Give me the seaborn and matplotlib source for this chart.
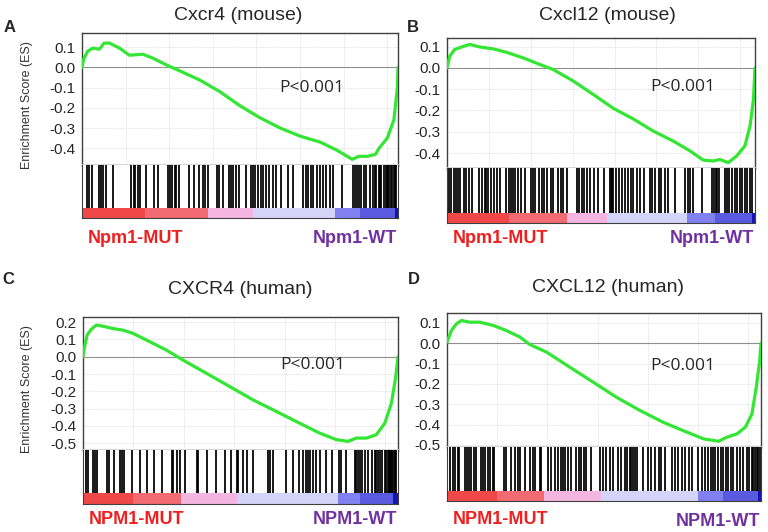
import matplotlib
matplotlib.use('Agg')
import matplotlib.pyplot as plt
from matplotlib.colors import ListedColormap
from matplotlib.ticker import MultipleLocator
import numpy as np
import pandas as pd
import seaborn as sns

# ---- running enrichment score (x = % of ranked list)
es_x_a = [0, 0.5, 1.8, 3.4, 5.5, 7, 8.7, 11.9, 15, 19.3, 22.5, 26.7, 30.9, 37.3, 43.6, 50,
          56.4, 62.7, 69, 75.4, 80.7, 85.5, 87.6, 90.3, 92.9, 94, 96.6, 98.7, 99.8, 100]
es_y_a = [0.0, 0.04, 0.08, 0.095, 0.09, 0.12, 0.12, 0.095, 0.06, 0.065, 0.045, 0.012, -0.017,
          -0.063, -0.12, -0.19, -0.25, -0.30, -0.34, -0.37, -0.41, -0.455, -0.44, -0.44, -0.43,
          -0.40, -0.35, -0.26, -0.10, 0.0]

es_x_b = [0, 0.9, 2.5, 5.2, 7.4, 10.6, 15, 19.3, 24.7, 30.1, 34.5, 41, 47.5, 54, 60.5, 67,
          73.5, 78.9, 83.2, 86.5, 88.6, 91.3, 94, 96.7, 98.4, 99.5, 100]
es_y_b = [0.0, 0.055, 0.086, 0.10, 0.11, 0.098, 0.089, 0.073, 0.047, 0.016, -0.008, -0.062,
          -0.125, -0.19, -0.24, -0.297, -0.344, -0.39, -0.433, -0.437, -0.43, -0.445, -0.414,
          -0.367, -0.273, -0.148, 0.0]

es_x_c = [0, 0.5, 1.3, 2.6, 4.2, 6.3, 9.5, 12.7, 15.9, 21.2, 26.5, 31.7, 39.2, 46.6, 54, 61.4,
          68.8, 75.1, 80.4, 84.1, 86.8, 90, 93.1, 95.8, 97.9, 99.3, 100]
es_y_c = [0.0, 0.058, 0.125, 0.158, 0.183, 0.177, 0.163, 0.154, 0.135, 0.087, 0.038, -0.019,
          -0.096, -0.173, -0.25, -0.317, -0.385, -0.442, -0.48, -0.49, -0.471, -0.471, -0.452,
          -0.385, -0.27, -0.115, 0.0]

es_x_d = [0, 1.4, 3, 4.6, 7.2, 10.4, 14.7, 18.9, 23.2, 26.4, 31.7, 39.1, 46.6, 54, 61.5, 68.9,
          75.3, 81.7, 86.5, 89.1, 92.3, 95, 97.1, 98.5, 99.6, 100]
es_y_d = [0.005, 0.062, 0.095, 0.111, 0.103, 0.103, 0.087, 0.062, 0.03, -0.007, -0.044, -0.118,
          -0.192, -0.266, -0.331, -0.389, -0.43, -0.47, -0.482, -0.462, -0.446, -0.413, -0.348,
          -0.216, -0.085, 0.0]

# ---- gene set hits (% position in ranked list)
hits_a = [1.5, 2.3, 3.2, 5.3, 6.0, 6.8, 7.6, 9.7, 15.5, 16.3, 16.9, 17.6, 18.2, 20.3, 22.9, 24.0,
          27.1, 27.9, 28.5, 29.3, 29.8, 30.8, 34.0, 35.6, 37.0, 38.2, 38.8, 39.8, 42.7, 43.5, 44.6,
          46.5, 47.2, 47.9, 48.8, 49.8, 52.0, 53.5, 54.1, 54.9, 55.6, 56.7, 57.4, 58.3, 59.3, 60.4,
          61.5, 63.0, 65.2, 66.7, 69.9, 70.8, 71.5, 72.5, 73.1, 74.3, 75.4, 76.2, 77.3, 78.6, 79.4,
          82.4, 85.7, 86.3, 87.0, 87.6, 88.4, 89.1, 90.0, 91.0, 92.1, 92.6, 93.1, 94.0, 94.4, 94.7,
          95.5, 96.1, 96.5, 96.8, 97.3, 97.9, 98.2, 98.6, 99.0, 99.5]
hits_b = [0.8, 1.3, 2.2, 2.9, 3.5, 4.3, 5.4, 6.2, 7.0, 8.0, 10.5, 11.3, 12.2, 12.7, 13.3, 14.3,
          15.2, 16.3, 17.1, 19.2, 20.0, 20.7, 21.4, 22.2, 23.0, 24.1, 25.2, 27.2, 27.9, 28.7, 29.8,
          30.7, 31.5, 32.6, 33.7, 34.5, 36.1, 37.0, 37.7, 38.8, 42.1, 42.8, 43.7, 44.6, 45.3, 46.4,
          47.8, 49.1, 51.1, 52.9, 53.2, 53.5, 54.0, 54.8, 55.7, 56.7, 57.8, 58.7, 59.8, 60.5, 61.6,
          62.5, 64.1, 66.0, 66.7, 67.6, 68.7, 69.6, 70.7, 71.7, 74.1, 77.4, 78.3, 79.0, 79.8, 82.8,
          86.1, 86.6, 87.2, 87.7, 88.3, 90.2, 91.0, 91.7, 92.6, 93.5, 94.2, 95.0, 95.9, 96.7, 97.5,
          98.3, 99.1]
hits_c = [1.1, 1.5, 3.2, 3.9, 4.4, 7.6, 8.4, 9.7, 11.6, 12.4, 12.9, 15.5, 18.0, 20.3, 22.4, 25.0,
          28.2, 28.7, 29.8, 30.8, 32.4, 36.1, 36.6, 39.3, 42.2, 45.1, 46.9, 48.8, 49.3, 50.9, 52.0,
          54.1, 58.8, 59.3, 60.4, 64.4, 66.7, 68.6, 69.9, 70.8, 71.5, 72.2, 73.1, 74.1, 75.2, 77.3,
          78.9, 81.3, 82.0, 83.6, 86.3, 86.8, 87.3, 87.9, 88.7, 89.4, 90.5, 91.6, 92.6, 93.1, 93.7,
          94.4, 95.0, 95.8, 96.3, 96.8, 97.1, 97.4, 97.9, 98.2, 98.4, 98.9, 99.2, 99.5]
hits_d = [1.1, 1.8, 2.6, 3.4, 3.9, 5.7, 6.4, 7.1, 7.7, 8.5, 9.3, 10.9, 11.4, 12.1, 13.0, 13.8,
          14.6, 15.1, 18.1, 18.8, 20.4, 21.7, 22.6, 23.4, 24.7, 26.3, 27.3, 28.1, 29.5, 30.0, 32.1,
          33.2, 34.3, 35.3, 36.2, 36.9, 37.7, 38.5, 39.4, 41.2, 41.9, 42.8, 43.6, 44.4, 46.0, 48.6,
          49.7, 50.7, 51.8, 52.9, 54.5, 55.3, 56.6, 57.4, 58.2, 58.7, 59.3, 59.8, 60.6, 62.4, 64.0,
          65.1, 66.4, 67.4, 68.3, 69.4, 71.5, 72.6, 73.6, 74.7, 75.7, 77.0, 77.9, 80.0, 81.1, 82.1,
          83.2, 84.0, 84.8, 85.5, 86.4, 87.2, 88.0, 88.7, 89.6, 90.4, 91.2, 92.2, 93.3, 94.4, 95.4,
          96.2, 97.0, 97.6, 98.1, 98.6, 99.1, 99.7]

# ---- ranked-list metric colour bands (% edges)
rank_colors = ['#f04848', '#f26a72', '#f4b6e0', '#d4d4f8', '#8080f0', '#5a5ae0', '#1414b0']
rank_edges_a = [0, 20, 40, 54, 80, 88, 99, 100]
rank_edges_b = [0, 20, 39, 52, 78, 87, 99, 100]
rank_edges_c = [0, 16, 31, 49, 81, 88, 98.5, 100]
rank_edges_d = [0, 16, 31, 49, 80, 88, 99, 100]

titles = ['Cxcr4 (mouse)', 'Cxcl12 (mouse)', 'CXCR4 (human)', 'CXCL12 (human)']
letters = ['A', 'B', 'C', 'D']
mut_labels = ['Npm1-MUT', 'Npm1-MUT', 'NPM1-MUT', 'NPM1-MUT']
wt_labels = ['Npm1-WT', 'Npm1-WT', 'NPM1-WT', 'NPM1-WT']
yticks_a = [0.1, 0.0, -0.1, -0.2, -0.3, -0.4]
yticks_c = [0.2, 0.1, 0.0, -0.1, -0.2, -0.3, -0.4, -0.5]
yticks_d = [0.1, 0.0, -0.1, -0.2, -0.3, -0.4, -0.5]
pval_text = 'P<0.001'

sns.set_style('white')
plt.rcParams['font.family'] = ['Liberation Sans', 'DejaVu Sans']

W, H = 768, 532
fig = plt.figure(figsize=(W / 100, H / 100), dpi=100)


def px_axes(x0, x1, y0, y1):
    return fig.add_axes([x0 / W, 1 - y1 / H, (x1 - x0) / W, (y1 - y0) / H])


panels = [
    dict(es_x=es_x_a, es_y=es_y_a, hits=hits_a, edges=rank_edges_a, yticks=yticks_a,
         box=(82, 398, 33, 165, 208, 218), ylim=(-0.483, 0.17), grid=13.8, pval=(62.5, -0.1),
         title_xy=(238, 15), letter_xy=(10, 27), lab_y=238, ylabel=True),
    dict(es_x=es_x_b, es_y=es_y_b, hits=hits_b, edges=rank_edges_b, yticks=yticks_a,
         box=(447, 755, 38, 168, 213, 223), ylim=(-0.47, 0.14), grid=13.6, pval=(66, -0.088),
         title_xy=(607, 15), letter_xy=(413, 27), lab_y=238, ylabel=False),
    dict(es_x=es_x_c, es_y=es_y_c, hits=hits_c, edges=rank_edges_c, yticks=yticks_c,
         box=(83, 398, 317, 450, 493, 504), ylim=(-0.54, 0.23), grid=16.0, pval=(62.7, -0.048),
         title_xy=(240, 290), letter_xy=(8, 280), lab_y=520, ylabel=True),
    dict(es_x=es_x_d, es_y=es_y_d, hits=hits_d, edges=rank_edges_d, yticks=yticks_d,
         box=(447, 761, 313, 447, 491, 501), ylim=(-0.51, 0.148), grid=16.0, pval=(64.6, -0.11),
         title_xy=(608, 288), letter_xy=(414, 280), lab_y=519, ylabel=False),
]

border = '#404040'
for i, p in enumerate(panels):
    x0, x1, y0, y1, y2, y3 = p['box']
    ax_es = px_axes(x0, x1, y0, y1)
    ax_hit = px_axes(x0, x1, y1, y2)
    ax_rank = px_axes(x0, x1, y2, y3)

    # running enrichment score
    df = pd.DataFrame({'rank': p['es_x'], 'es': p['es_y']})
    sns.lineplot(data=df, x='rank', y='es', ax=ax_es, color='#33e633', lw=2.3, zorder=3)
    ax_es.axhline(0, color='#909090', lw=0.8, zorder=2)
    ax_es.set_xlim(0, 100)
    ax_es.set_ylim(*p['ylim'])
    ax_es.set_yticks(p['yticks'])
    ax_es.set_yticklabels([f'{v:.1f}' for v in p['yticks']], fontsize=11)
    ax_es.xaxis.set_major_locator(MultipleLocator(p['grid']))
    ax_es.set_xticklabels([])
    ax_es.tick_params(length=0, pad=5)
    ax_es.grid(True, color='#e4e4e4', lw=0.6, ls=(0, (2, 1)))
    ax_es.set_xlabel('')
    ax_es.set_ylabel('')
    for s in ['top', 'left', 'right']:
        ax_es.spines[s].set_color(border)
        ax_es.spines[s].set_linewidth(1.0)
    ax_es.spines['bottom'].set_color('#d0d0d0')
    ax_es.spines['bottom'].set_linewidth(2.0)
    ax_es.text(p['pval'][0], p['pval'][1], pval_text, fontsize=12.5, va='center', ha='left',
               family=['Open Sans', 'DejaVu Sans'])

    # hit barcode
    ax_hit.vlines(p['hits'], 0, 1, color='black', lw=1.4, alpha=0.9)
    ax_hit.set_xlim(0, 100)
    ax_hit.set_ylim(0, 1)
    ax_hit.set_xticks([])
    ax_hit.set_yticks([])
    ax_hit.spines['top'].set_visible(False)
    ax_hit.spines['bottom'].set_visible(False)
    for s in ['left', 'right']:
        ax_hit.spines[s].set_color(border)

    # ranked list metric bar
    n_band = len(p['edges']) - 1
    ax_rank.pcolormesh(p['edges'], [0, 1], np.arange(n_band).reshape(1, -1),
                       cmap=ListedColormap(rank_colors), vmin=-0.5, vmax=n_band - 0.5)
    ax_rank.set_xlim(0, 100)
    ax_rank.set_ylim(0, 1)
    ax_rank.set_xticks([])
    ax_rank.set_yticks([])
    ax_rank.spines['top'].set_visible(False)
    for s in ['left', 'right', 'bottom']:
        ax_rank.spines[s].set_color(border)

    # titles and labels
    tx, ty = p['title_xy']
    fig.text(tx / W, 1 - ty / H, titles[i], fontsize=14, ha='center', va='center')
    lx, ly = p['letter_xy']
    fig.text(lx / W, 1 - ly / H, letters[i], fontsize=12, fontweight='bold', ha='center', va='center')
    fig.text((x0 + 6) / W, 1 - p['lab_y'] / H, mut_labels[i], fontsize=13, fontweight='bold',
             color='#f01e1e', ha='left', va='center')
    fig.text((x1 - 1) / W, 1 - (p['lab_y'] + (3 if i == 3 else 0)) / H, wt_labels[i], fontsize=13,
             fontweight='bold', color='#7030a0', ha='right', va='center')
    if p['ylabel']:
        fig.text(27 / W, 1 - ((y0 + y1) / 2 + 6) / H, 'Enrichment Score (ES)', fontsize=9,
                 color='#333333', rotation=90, ha='center', va='center')

fig.savefig('out.png', dpi=100)
